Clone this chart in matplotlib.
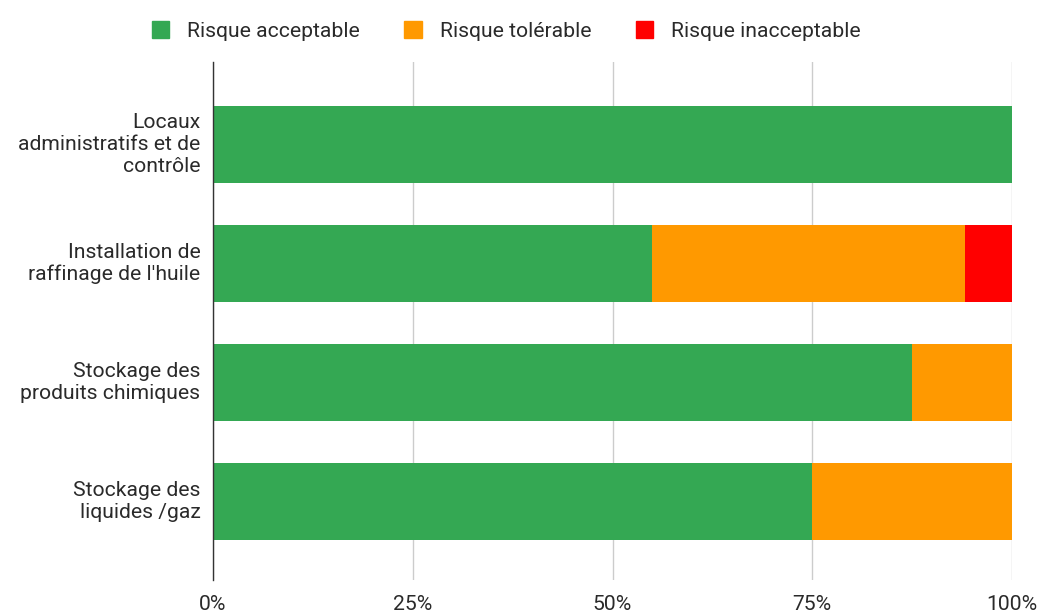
import matplotlib
matplotlib.use("Agg")
import matplotlib.pyplot as plt
from matplotlib.patches import Patch
from matplotlib.ticker import FuncFormatter

plt.rcParams['font.family'] = ['Roboto', 'DejaVu Sans']

categories = [
    "Locaux\nadministratifs et de\ncontrôle",
    "Installation de\nraffinage de l'huile",
    "Stockage des\nproduits chimiques",
    "Stockage des\nliquides /gaz",
]
acceptable = [100.0, 54.9, 87.5, 75.0]
tolerable = [0.0, 39.2, 12.5, 25.0]
inacceptable = [0.0, 5.9, 0.0, 0.0]
series_names = ["Risque acceptable", "Risque tolérable", "Risque inacceptable"]
colors = ["#34a853", "#ff9900", "#ff0000"]
xticks = [0, 25, 50, 75, 100]

FS = 15.2
TEXT = "#2a2a2a"

fig = plt.figure(figsize=(10.42, 6.13), dpi=100)
ax = fig.add_axes([213 / 1042, 1 - 580 / 613, 799 / 1042, 518 / 613])

ypos = list(range(len(categories)))
left = [0.0] * len(categories)
for vals, col in zip([acceptable, tolerable, inacceptable], colors):
    ax.barh(ypos, vals, left=left, height=0.647, color=col, zorder=3)
    left = [l + v for l, v in zip(left, vals)]

ax.set_xlim(0, 100)
ax.set_ylim(3.66, -0.693)
ax.set_yticks(ypos)
ax.set_yticklabels(categories, fontsize=FS, color=TEXT, linespacing=1.2,
                   verticalalignment="center")
ax.set_xticks(xticks)
ax.xaxis.set_major_formatter(FuncFormatter(lambda v, p: f"{int(v)}%"))
ax.tick_params(axis="x", length=0, pad=10.5, labelsize=FS, labelcolor=TEXT)
ax.tick_params(axis="y", length=0, pad=9)
ax.grid(axis="x", color="#cccccc", linewidth=1, zorder=0)
for s in ["top", "right", "bottom"]:
    ax.spines[s].set_visible(False)
ax.spines["left"].set_color("#333333")
ax.spines["left"].set_linewidth(1)
ax.spines["left"].set_zorder(4)

handles = [Patch(facecolor=c, edgecolor=c, label=n) for c, n in zip(colors, series_names)]
fig.legend(handles=handles, loc="center", bbox_to_anchor=(0.486, 1 - 31 / 613), ncol=3,
           frameon=False, fontsize=FS, handlelength=0.82, handleheight=0.82,
           handletextpad=0.86, columnspacing=2.1, labelcolor=TEXT)

fig.savefig("out.png", dpi=100, facecolor="white")
